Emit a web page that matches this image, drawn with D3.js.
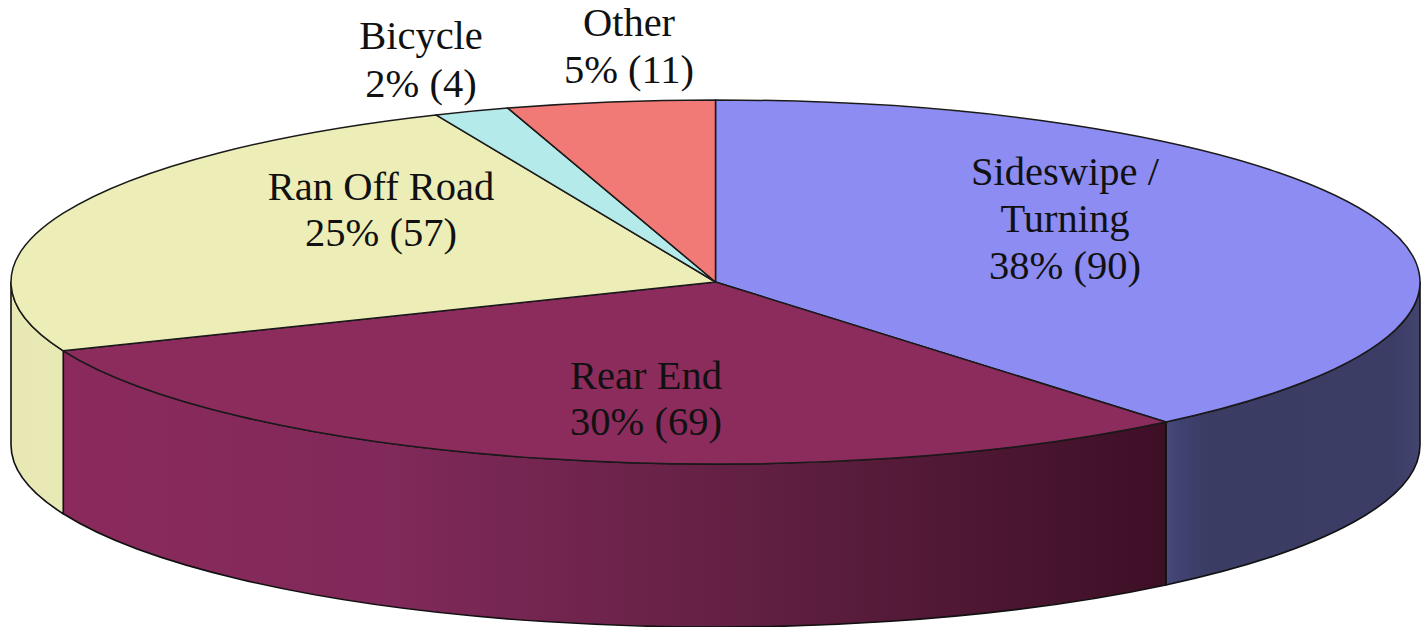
<!DOCTYPE html>
<html><head><meta charset="utf-8">
<style>html,body{margin:0;padding:0;background:#fff;overflow:hidden}svg{display:block}</style>
<script src="https://cdn.jsdelivr.net/npm/d3@7/dist/d3.min.js"></script>
</head><body><svg id="c" width="1427" height="627"></svg>
<script>
const categories = ["Sideswipe / Turning","Rear End","Ran Off Road","Bicycle","Other"];
const counts = [90,69,57,4,11];
const percents = [38,30,25,2,5];
const labelLines = [["Sideswipe /","Turning","38% (90)"],["Rear End","30% (69)"],["Ran Off Road","25% (57)"],["Bicycle","2% (4)"],["Other","5% (11)"]];
const topColors = ["#8c8cf2","#8b2c5c","#ededb7","#b5eaea","#f27a76"];

const W=1427,H=627,cx=715.5,cy=282,rx=704.5,ry=182,depth=163;
const svg=d3.select("#c");
const defs=svg.append("defs");
const stops={1:[["0","#8b2a5c"],["0.3","#80295a"],["0.65","#5f1f40"],["1","#3d0f26"]],
             2:[["0","#e8e8b4"],["1","#e9e9b6"]],
             0:[["0","#474a7a"],["0.06","#3f4170"],["0.18","#3b3c63"],["0.9","#3c3d66"],["1","#43456f"]]};
const xScale=d3.scaleLinear().domain([-1,1]).range([cx-rx,cx+rx]);
const yScale=d3.scaleLinear().domain([-1,1]).range([cy-ry,cy+ry]);
const pie=d3.pie().sort(null).value(d=>d);
const arcs=pie(counts);
const px=a=>xScale(Math.sin(a)), py=a=>yScale(-Math.cos(a));

Object.keys(stops).forEach(k=>{
  const i=+k, a=arcs[i];
  const a0=Math.max(a.startAngle,Math.PI/2), a1=Math.min(a.endAngle,3*Math.PI/2);
  const g=defs.append("linearGradient").attr("id","side"+i).attr("gradientUnits","userSpaceOnUse")
    .attr("x1",Math.min(px(a0),px(a1))).attr("x2",Math.max(px(a0),px(a1))).attr("y1",0).attr("y2",0);
  const list=i===1?stops[k].slice():stops[k];
  list.forEach(s=>g.append("stop").attr("offset",s[0]).attr("stop-color",s[1]));
  const rev=(a1-a0)>Math.PI?1:0;
  const d=`M${px(a0)},${py(a0)}A${rx},${ry} 0 ${rev} 1 ${px(a1)},${py(a1)}`+
    `L${px(a1)},${py(a1)+depth}A${rx},${ry} 0 ${rev} 0 ${px(a0)},${py(a0)+depth}Z`;
  svg.append("path").attr("d",d).attr("fill",`url(#side${i})`).attr("stroke","#111").attr("stroke-width",1.6).attr("stroke-linejoin","round");
});
const slices=svg.append("g");
slices.selectAll("path").data(arcs).join("path")
  .attr("d",d=>`M${cx},${cy}L${px(d.startAngle)},${py(d.startAngle)}`+
     `A${rx},${ry} 0 ${(d.endAngle-d.startAngle)>Math.PI?1:0} 1 ${px(d.endAngle)},${py(d.endAngle)}Z`)
  .attr("fill",(d,i)=>topColors[i]).attr("stroke","#1a1a1a").attr("stroke-width",1.5).attr("stroke-linejoin","round");

const labelPos=[[1065,172],[646,376],[381,187],[421,36],[629,23]];
const lh=[47,46,46,48,47];
const t=svg.append("g").attr("font-family","'Liberation Serif',serif").attr("font-size",40.5).attr("fill","#111").attr("text-anchor","middle");
labelLines.forEach((ls,i)=>{
  ls.forEach((s,j)=>t.append("text").attr("x",labelPos[i][0]).attr("y",labelPos[i][1]+j*lh[i]).attr("dy","0.33em").text(s));
});
</script></body></html>
